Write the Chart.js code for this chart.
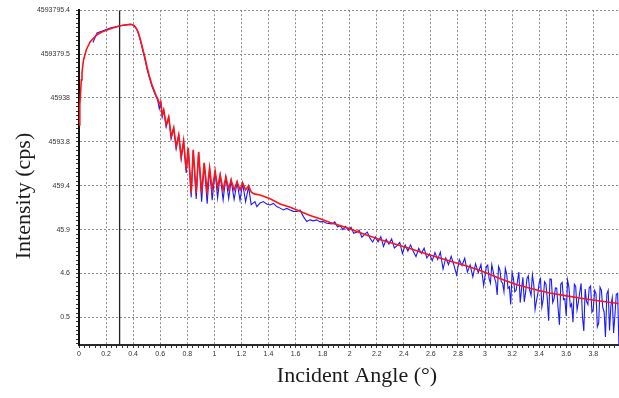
<!DOCTYPE html>
<html>
<head>
<meta charset="utf-8">
<script src="https://cdn.jsdelivr.net/npm/chart.js@4.4.1/dist/chart.umd.min.js"></script>
<style>
  html, body { margin: 0; padding: 0; background: #fff; }
  #chart { display: block; }
</style>
</head>
<body>
<canvas id="chart" width="619" height="398"></canvas>
<script>
// axis labels and tick labels
const xTitle = "Incident Angle (\u00b0)";
const yTitle = "Intensity (cps)";

const xTickValues = [0, 0.2, 0.4, 0.6, 0.8, 1, 1.2, 1.4, 1.6, 1.8, 2, 2.2, 2.4, 2.6, 2.8, 3, 3.2, 3.4, 3.6, 3.8];
const xTickLabels = ["0", "0.2", "0.4", "0.6", "0.8", "1", "1.2", "1.4", "1.6", "1.8", "2", "2.2", "2.4", "2.6", "2.8", "3", "3.2", "3.4", "3.6", "3.8"];

const yTickValues = [4593795.4, 459379.54, 45937.954, 4593.7954, 459.37954, 45.937954, 4.5937954, 0.45937954];
const yTickLabels = ["4593795.4", "459379.5", "45938", "4593.8", "459.4", "45.9", "4.6", "0.5"];

const xMin = 0, xMax = 3.99;
const yMin = 0.108, yMax = 4593795.4;

// vertical marker (critical angle)
const markerAngle = 0.3;

// fitted curve (red)
const fitAngle = [0, 0.006, 0.01, 0.017, 0.022, 0.028, 0.034, 0.054, 0.083, 0.133,
  0.179, 0.231, 0.305, 0.364, 0.38, 0.395, 0.405, 0.415, 0.425, 0.435, 0.445, 0.455, 0.467, 0.486,
  0.502, 0.519, 0.539, 0.556, 0.570, 0.582, 0.593, 0.604, 0.615, 0.626,
  0.644, 0.663, 0.681, 0.700, 0.718, 0.737, 0.755, 0.773, 0.792, 0.807,
  0.829, 0.844, 0.866, 0.884, 0.906, 0.925, 0.947, 0.965, 0.984, 1.006,
  1.024, 1.043, 1.065, 1.085, 1.106, 1.124, 1.146, 1.168, 1.190, 1.209,
  1.231, 1.253, 1.272, 1.294, 1.338, 1.412, 1.486, 1.560, 1.633, 1.707,
  1.781, 1.855, 1.928, 2.002, 2.113, 2.223, 2.334, 2.445, 2.556, 2.666,
  2.777, 2.888, 2.984, 3.109, 3.235, 3.368, 3.478, 3.603, 3.721, 3.846, 3.986];
const fitIntensity = [11200, 32100, 48900, 119000, 173000, 249000, 341000, 577000, 879000, 1270000,
  1510000, 1740000, 2040000, 2170000, 2190000, 2150000, 2070000, 1930000, 1750000, 1500000, 1220000, 950000, 676000, 400000,
  237000, 147000, 91800, 67000, 51500, 44000, 33900, 37600, 19000, 24700,
  11200, 17100, 5980, 9600, 3540, 6650, 2090, 4850, 1060, 3360,
  316, 3030, 316, 2720, 316, 1530, 352, 1175, 370, 1005,
  411, 815, 370, 733, 390, 627, 370, 564, 370, 535,
  370, 457, 333, 300, 284, 231, 177, 148, 120, 97,
  81, 67, 57, 47.8, 35.8, 27.5, 21.7, 17.1, 13.2, 10.4,
  8.2, 6.5, 5.1, 3.54, 2.55, 1.99, 1.66, 1.42, 1.24, 1.09, 0.955];

// measured data (blue)
const measAngle = [0.103, 0.133, 0.182, 0.231, 0.305, 0.364, 0.38, 0.395, 0.405, 0.415,
  0.425, 0.435, 0.445, 0.455, 0.467, 0.486, 0.502, 0.519, 0.539, 0.556,
  0.570, 0.582, 0.593, 0.604, 0.615, 0.626, 0.644, 0.663, 0.681, 0.700,
  0.718, 0.737, 0.755, 0.773, 0.792, 0.807, 0.829, 0.844, 0.866, 0.884,
  0.906, 0.925, 0.947, 0.965, 0.984, 1.006, 1.024, 1.043, 1.065, 1.085,
  1.106, 1.124, 1.146, 1.168, 1.190, 1.209, 1.231, 1.253, 1.272, 1.300,
  1.314, 1.338, 1.362, 1.387, 1.412, 1.436, 1.461, 1.486, 1.510, 1.535,
  1.560, 1.584, 1.610, 1.633, 1.658, 1.683, 1.707, 1.731, 1.756, 1.781,
  1.805, 1.830, 1.855,
  1.87, 1.89, 1.91, 1.93, 1.95, 1.97, 1.99, 2.01, 2.03, 2.05,
  2.07, 2.09, 2.11, 2.13, 2.15, 2.17, 2.19,
  2.21, 2.23, 2.25, 2.27, 2.29, 2.31, 2.33, 2.35, 2.37, 2.39,
  2.41, 2.43, 2.45, 2.47, 2.49, 2.51, 2.53, 2.55, 2.57, 2.59,
  2.61, 2.63, 2.65, 2.67, 2.69, 2.71, 2.73, 2.75, 2.77, 2.79,
  2.81, 2.83, 2.85, 2.87, 2.89, 2.91, 2.93, 2.95, 2.97, 2.99,
  3.00, 3.01, 3.02, 3.03, 3.04, 3.05, 3.06, 3.07, 3.08, 3.09,
  3.10, 3.11, 3.12, 3.13, 3.14, 3.15, 3.16, 3.17, 3.18, 3.19,
  3.20, 3.21, 3.22, 3.23, 3.24, 3.25, 3.26, 3.27, 3.28, 3.29,
  3.30, 3.31, 3.32, 3.33, 3.34, 3.35, 3.36, 3.37, 3.38, 3.39,
  3.40, 3.41, 3.42, 3.43, 3.44, 3.45, 3.46, 3.47, 3.48, 3.49,
  3.50, 3.51, 3.52, 3.53, 3.54, 3.55, 3.56, 3.57, 3.58, 3.59,
  3.60, 3.61, 3.62, 3.63, 3.64, 3.65, 3.66, 3.67, 3.68, 3.69,
  3.70, 3.71, 3.72, 3.73, 3.74, 3.75, 3.76, 3.77, 3.78, 3.79,
  3.80, 3.81, 3.82, 3.83, 3.84, 3.85, 3.86, 3.87, 3.88, 3.89,
  3.90, 3.91, 3.92, 3.93, 3.94, 3.95, 3.96, 3.97, 3.98, 3.99];
const measIntensity = [847000, 1390000, 1590000, 1800000, 2040000, 2160000, 2180000, 2140000, 2050000, 1900000,
  1700000, 1450000, 1170000, 900000, 630000, 360000, 215000, 135000, 85000, 62000,
  49000, 40000, 26000, 36000, 17000, 24000, 10000, 16500, 5400, 9300,
  3200, 6500, 1850, 4700, 900, 3300, 250, 2950, 230, 2650,
  200, 1500, 180, 1150, 215, 980, 240, 800, 220, 720,
  235, 610, 225, 550, 215, 520, 200, 440, 170, 200,
  154, 187, 200, 177, 168, 182, 154, 142, 129, 140,
  129, 120, 119, 129, 91, 70, 76.6, 73, 76.6, 69,
  70, 64, 63,
  61.7, 68.9, 53.2, 56.4, 45.9, 54.1, 44.0, 51.8, 37.8, 39.8,
  44.5, 30.8, 36.0, 40.3, 29.4, 24.0, 31.2,
  24.2, 31.8, 18.9, 27.6, 21.5, 28.2, 17.6, 19.9, 23.5, 13.2,
  20.4, 14.9, 20.7, 14.5, 11.1, 17.2, 13.3, 17.4, 10.4, 12.9,
  9.0, 13.8, 9.66, 14.1, 5.80, 10.4, 7.35, 11.3, 7.12, 4.28,
  9.52, 7.0, 10.2, 4.95, 7.23, 3.87, 7.70, 4.80, 7.35, 2.45,
  4.04, 6.61, 7.16, 3.50, 2.76, 7.27, 5.16, 3.66, 2.88, 1.49,
  6.64, 5.50, 3.0, 2.76, 1.77, 6.04, 4.53, 2.10, 2.28, 0.903,
  4.73, 3.55, 1.76, 1.90, 3.15, 4.95, 1.00, 2.05, 3.75, 1.04,
  1.72, 3.54, 4.05, 1.91, 1.45, 4.28, 2.62, 0.694, 1.09, 1.55,
  2.86, 3.48, 0.787, 1.18, 2.99, 2.65, 1.25, 0.388, 3.46, 3.41,
  1.00, 1.22, 2.15, 2.12, 0.731, 0.311, 2.65, 2.89, 1.17, 1.22,
  0.493, 3.24, 2.22, 0.804, 0.932, 0.358, 2.61, 2.33, 0.683, 1.03,
  1.72, 2.73, 0.478, 0.226, 2.04, 1.06, 0.903, 2.19, 2.40, 0.606,
  0.701, 1.88, 1.60, 0.280, 0.342, 2.24, 1.90, 0.771, 0.619, 0.165,
  1.57, 1.91, 0.232, 0.857, 1.29, 0.204, 0.520, 1.55, 1.63, 0.094];

function toPoints(xs, ys) {
  return xs.map((x, i) => ({ x: x, y: ys[i] }));
}

// major ticks carry a label, minor ticks only get a tick mark
function buildXTicks(scale) {
  const ticks = [];
  for (let i = 0; i * 0.04 <= xMax; i++) {
    const v = Math.round(i * 4) / 100;
    const lab = (i % 5 === 0 && i / 5 < xTickLabels.length) ? xTickLabels[i / 5] : '';
    ticks.push({ value: lab ? xTickValues[i / 5] : v, lab: lab });
  }
  scale.ticks = ticks;
}

function buildYTicks(scale) {
  const ticks = [];
  yTickValues.forEach((v, i) => {
    ticks.push({ value: v, lab: yTickLabels[i] });
    for (let k = 1; k < 10; k++) {
      const m = v / Math.pow(10, k / 10);
      if (m >= yMin) ticks.push({ value: m, lab: '' });
    }
  });
  ticks.sort((a, b) => a.value - b.value);
  scale.ticks = ticks;
}

const gridColor = c => (c.tick && c.tick.lab) ? '#8c8c8c' : 'rgba(0,0,0,0)';
const tickFont = { family: '"Liberation Sans", Arial, sans-serif', size: 7 };

// axis titles drawn in place, serif like the original software
const axisTitles = {
  id: 'axisTitles',
  afterDraw(chart) {
    const ctx = chart.ctx;
    ctx.save();
    ctx.fillStyle = '#1a1a1a';
    ctx.font = '22px "Liberation Serif", "Times New Roman", serif';
    ctx.textAlign = 'center';
    ctx.textBaseline = 'alphabetic';
    ctx.fillText(xTitle, 357, 382);
    ctx.translate(30, 196);
    ctx.rotate(-Math.PI / 2);
    ctx.fillText(yTitle, 0, 0);
    ctx.restore();
  }
};

new Chart(document.getElementById('chart'), {
  type: 'line',
  data: {
    datasets: [
      {
        label: 'Fit',
        data: toPoints(fitAngle, fitIntensity),
        borderColor: 'rgb(255,20,20)',
        borderWidth: 1.6,
        pointRadius: 0,
        tension: 0,
        fill: false
      },
      {
        label: 'Measured',
        data: toPoints(measAngle, measIntensity),
        borderColor: 'rgb(25,25,255)',
        borderWidth: 1.1,
        pointRadius: 0,
        tension: 0,
        fill: false
      },
      {
        label: 'Marker',
        data: [{ x: markerAngle, y: yMin }, { x: markerAngle, y: yMax }],
        borderColor: '#222',
        borderWidth: 1.3,
        pointRadius: 0,
        fill: false
      }
    ]
  },
  options: {
    responsive: false,
    animation: false,
    devicePixelRatio: 1,
    layout: { padding: { top: 10, right: 0, bottom: 0, left: 0 } },
    plugins: {
      legend: { display: false },
      tooltip: { enabled: false }
    },
    scales: {
      x: {
        type: 'linear',
        min: xMin,
        max: xMax,
        bounds: 'data',
        afterBuildTicks: buildXTicks,
        afterFit(scale) { scale.height = 53; },
        ticks: {
          autoSkip: false,
          maxRotation: 0,
          padding: 2,
          color: '#333',
          font: tickFont,
          callback: (v, i, ticks) => ticks[i].lab
        },
        grid: { color: gridColor, tickColor: '#333', tickLength: 3, lineWidth: 1 },
        border: { display: true, color: '#2a2a2a', width: 2, dash: [2, 2] }
      },
      y: {
        type: 'logarithmic',
        min: yMin,
        max: yMax,
        bounds: 'data',
        afterBuildTicks: buildYTicks,
        afterFit(scale) { scale.width = 79; },
        ticks: {
          autoSkip: false,
          padding: 6,
          color: '#333',
          font: tickFont,
          callback: (v, i, ticks) => ticks[i].lab
        },
        grid: { color: gridColor, tickColor: '#333', tickLength: 3, lineWidth: 1 },
        border: { display: true, color: '#111', width: 2, dash: [2, 2] }
      }
    }
  },
  plugins: [axisTitles]
});
</script>
</body>
</html>
